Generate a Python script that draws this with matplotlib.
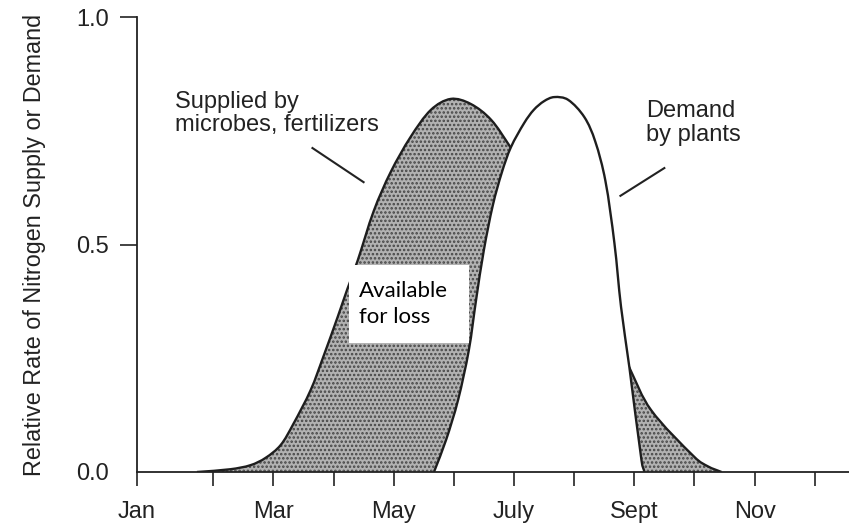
import numpy as np
import matplotlib
matplotlib.use("Agg")
import matplotlib.pyplot as plt
from matplotlib.patches import Rectangle, PathPatch
from matplotlib.path import Path

# ---- data (month index: Jan=1 ... Dec=12) ----
month_labels = ["Jan", "", "Mar", "", "May", "", "July", "", "Sept", "", "Nov", ""]
month_pos = [1, 2, 3, 4, 5, 6, 7, 8, 9, 10, 11, 12]

supply_x = [1.73, 2.28, 2.62, 2.87, 3.12, 3.33, 3.62, 3.83, 4.07, 4.23, 4.40, 4.67,
            4.95, 5.28, 5.62, 5.95, 6.28, 6.62, 6.95, 7.5, 8.0, 8.5,
            8.92, 9.28, 10.0, 10.23, 10.45]
supply_y = [0.0, 0.006, 0.015, 0.031, 0.059, 0.105, 0.180, 0.253, 0.341, 0.402, 0.464, 0.574,
            0.659, 0.736, 0.796, 0.820, 0.809, 0.774, 0.712, 0.60, 0.48, 0.35,
            0.229, 0.136, 0.033, 0.012, 0.0]

demand_x = [5.67, 5.87, 6.07, 6.25, 6.37, 6.50, 6.65, 6.80, 6.95, 7.17, 7.33, 7.50, 7.67,
            7.90, 8.17, 8.35, 8.52, 8.67, 8.78, 8.92, 9.12, 9.17]
demand_y = [0.0, 0.070, 0.158, 0.268, 0.378, 0.488, 0.587, 0.659, 0.714, 0.767, 0.796, 0.815,
            0.824, 0.818, 0.780, 0.727, 0.640, 0.503, 0.363, 0.229, 0.026, 0.0]

y_ticks = [0.0, 0.5, 1.0]
y_ticklabels = ["0.0", "0.5", "1.0"]

FONT = ["Liberation Sans", "DejaVu Sans"]
plt.rcParams["font.family"] = FONT
plt.rcParams["hatch.linewidth"] = 1.2
INK = "#1e1e1e"
HATCH = "#454545"
PX = np.array([60.0, 455.0])  # rough pixels per data unit, for curve parametrisation


def smooth_path(xs, ys, close_to_base=False):
    """Chord-length Catmull-Rom curve through the read points, as cubic Beziers."""
    p = np.column_stack([xs, ys]).astype(float)
    q = p * PX
    d = np.sqrt(np.linalg.norm(np.diff(q, axis=0), axis=1))
    t = np.concatenate([[0.0], np.cumsum(d)])
    n = len(q)
    m = np.zeros_like(q)
    for i in range(n):
        a, b = max(i - 1, 0), min(i + 1, n - 1)
        m[i] = (q[b] - q[a]) / (t[b] - t[a])
    verts = [tuple(p[0])]
    codes = [Path.MOVETO]
    for i in range(n - 1):
        h = t[i + 1] - t[i]
        c1 = (q[i] + m[i] * h / 3.0) / PX
        c2 = (q[i + 1] - m[i + 1] * h / 3.0) / PX
        verts += [tuple(c1), tuple(c2), tuple(p[i + 1])]
        codes += [Path.CURVE4] * 3
    if close_to_base:
        verts += [tuple(p[0]), tuple(p[0])]
        codes += [Path.LINETO, Path.CLOSEPOLY]
    return Path(verts, codes)


fig = plt.figure(figsize=(8.49, 5.26), dpi=100)
ax = fig.add_axes([137 / 849, 1 - 472 / 526, 1 - 137 / 849, (472 - 17) / 526])

XMIN, XMAX = 0.733, 12.57
ax.set_xlim(XMIN, XMAX)
ax.set_ylim(0, 1.0)

# shaded supply area
ax.add_patch(PathPatch(smooth_path(supply_x, supply_y, True), facecolor="#b2b2b2",
                       edgecolor=HATCH, hatch="....", lw=0, zorder=1))
ax.add_patch(PathPatch(smooth_path(supply_x, supply_y), facecolor="none",
                       edgecolor=INK, lw=1.7, zorder=2))
# demand area (white, covers supply)
ax.add_patch(PathPatch(smooth_path(demand_x, demand_y, True), facecolor="white",
                       edgecolor="none", zorder=3))
ax.add_patch(PathPatch(smooth_path(demand_x, demand_y), facecolor="none",
                       edgecolor=INK, lw=1.7, zorder=4))

# spines
for s in ["top", "right"]:
    ax.spines[s].set_visible(False)
for s in ["left", "bottom"]:
    ax.spines[s].set_linewidth(1.3)
    ax.spines[s].set_color("#222222")
    ax.spines[s].set_zorder(5)

xt = list(month_pos)
xt[0] = XMIN
ax.set_xticks(xt)
ax.set_xticklabels(month_labels)
ax.set_yticks(y_ticks)
ax.set_yticklabels(y_ticklabels)
ax.tick_params(axis="x", direction="out", length=10, width=1.2, pad=11,
               labelsize=17, colors="#222222")
ax.tick_params(axis="y", direction="out", length=12, width=1.2, pad=8,
               labelsize=17, colors="#222222")
ax.yaxis.get_major_ticks()[0].tick1line.set_visible(False)

ax.set_ylabel("Relative Rate of Nitrogen Supply or Demand", fontsize=16.8,
              color="#222222")
ax.yaxis.set_label_coords((46 - 137) / (849 - 137), 0.5)

# annotations
ax.text(1.37, 0.838, "Supplied by\nmicrobes, fertilizers", fontsize=17, ha="left",
        va="top", color="#222222", linespacing=1.1, zorder=6)
ax.plot([3.65, 4.5], [0.712, 0.637], color="#222222", lw=1.5, zorder=6)

ax.text(9.2, 0.818, "Demand\nby plants", fontsize=17, ha="left", va="top",
        color="#222222", linespacing=1.1, zorder=6)
ax.plot([9.5, 8.77], [0.668, 0.607], color="#222222", lw=1.5, zorder=6)

ax.add_patch(Rectangle((4.25, 0.284), 2.0, 0.171, facecolor="white",
                       edgecolor="none", zorder=7))
ax.text(4.43, 0.42, "Available\nfor loss", fontsize=16, ha="left", va="top",
        family=["Lato", "DejaVu Sans"], color="black", linespacing=1.4, zorder=8)

fig.savefig("out.png", dpi=100)
